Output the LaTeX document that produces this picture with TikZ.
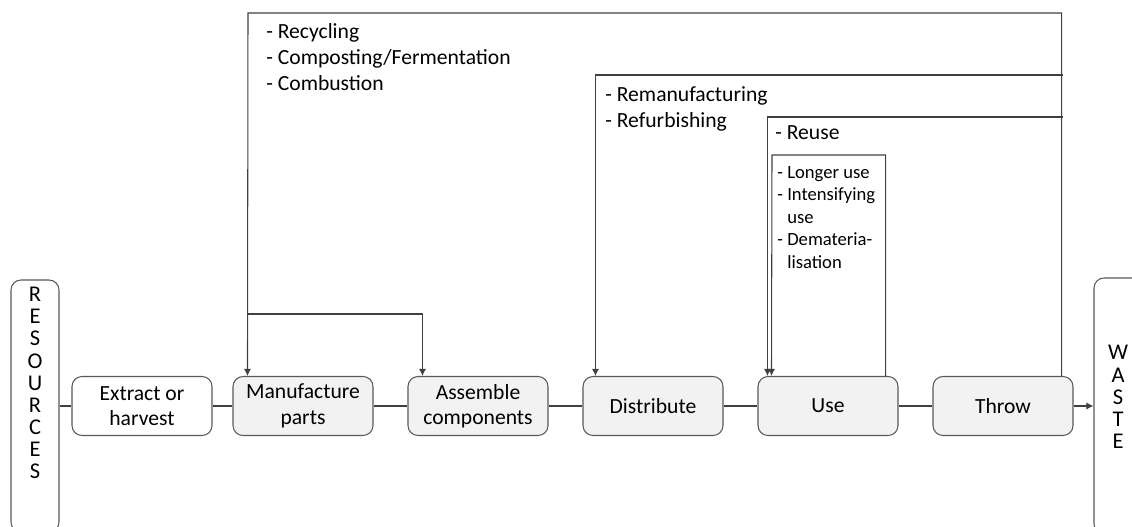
\documentclass[tikz,border=0pt]{standalone}
\usepackage{fontspec}
\setmainfont{Carlito}
\usetikzlibrary{arrows.meta}
\definecolor{boxgray}{HTML}{F2F2F2}
\definecolor{edgegray}{HTML}{595959}
\definecolor{linegray}{HTML}{404040}
\tikzset{>={Latex[length=4pt,width=4pt]}}
\tikzset{
	stage/.style={draw=edgegray, line width=0.6pt, rounded corners=2mm, fill=boxgray, minimum width=2.8cm, minimum height=1.18cm, align=center, font=\fontsize{12.3}{14.5}\selectfont, inner sep=0pt},
	sidebox/.style={draw=edgegray, line width=0.6pt, rounded corners=2mm, fill=white, minimum width=0.96cm},
	letters/.style={align=center, font=\fontsize{12.8}{12.6}\selectfont, inner sep=0pt},
	flow/.style={draw=linegray, line width=0.6pt},
	loopnote/.style={align=left, anchor=north west, inner sep=0pt, font=\fontsize{12.3}{14.7}\selectfont},
	smallnote/.style={align=left, anchor=north west, inner sep=0pt, font=\fontsize{10.6}{12.8}\selectfont},
}
\begin{document}
\begin{tikzpicture}[x=0.2mm,y=-0.2mm]
			\useasboundingbox (0,0) rectangle (1132,526);
			\clip (0,0) rectangle (1132,526);
			\coordinate (recyc) at (248,13);
			\coordinate (split) at (248,314);
			\coordinate (remanR) at (1063,75);
			\coordinate (reuseR) at (1063,117);
			\coordinate (inner) at (772,155);
			\node[sidebox, minimum height=5.04cm] (resources) at (35,406) {};
			\node[sidebox, minimum height=5.12cm] (waste) at (1118,406) {};
			\node[letters] (resText) at (35,383) {R\\E\\S\\O\\U\\R\\C\\E\\S};
			\node[letters] (wasteText) at (1118,397) {W\\A\\S\\T\\E};
			\node[stage, fill=white] (extract) at (142,406) {Extract or\\harvest};
			\node[stage] (manufacture) at (303,406) {Manufacture\\parts};
			\node[stage] (assemble) at (478,406) {Assemble\\components};
			\node[stage] (distribute) at (653,406) {Distribute};
			\node[stage] (use) at (828,406) {Use};
			\node[stage] (throw) at (1003,406) {Throw};
			\draw[flow] (resources) -- (extract);
			\draw[flow] (extract) -- (manufacture);
			\draw[flow] (manufacture) -- (assemble);
			\draw[flow] (assemble) -- (distribute);
			\draw[flow] (distribute) -- (use);
			\draw[flow] (use) -- (throw);
			\draw[flow,->] (throw) -- (waste);
			\draw[flow,->] ([xshift=-2.4mm]throw.north east) |- (recyc) -- ([xshift=3mm]manufacture.north west);
			\draw[flow,->] (split) -| ([xshift=3mm]assemble.north west);
			\draw[flow,->] (remanR) -| ([xshift=2.6mm]distribute.north west);
			\draw[flow,->] (reuseR) -| ([xshift=2mm]use.north west);
			\draw[flow,->] ([xshift=-2.6mm]use.north east) |- (inner) -- ([xshift=2.8mm]use.north west);
			\node[loopnote] (recycNote) at (266,23) {- Recycling\\- Composting/Fermentation\\- Combustion};
			\node[loopnote] (remanNote) at (605,86) {- Remanufacturing\\- Refurbishing};
			\node[loopnote] (reuseNote) at (775,125) {- Reuse};
			\node[smallnote] (useNote) at (777,166) {- Longer use\\- Intensifying\\\phantom{- }use\\- Demateria-\\\phantom{- }lisation};
		\end{tikzpicture}
\end{document}
